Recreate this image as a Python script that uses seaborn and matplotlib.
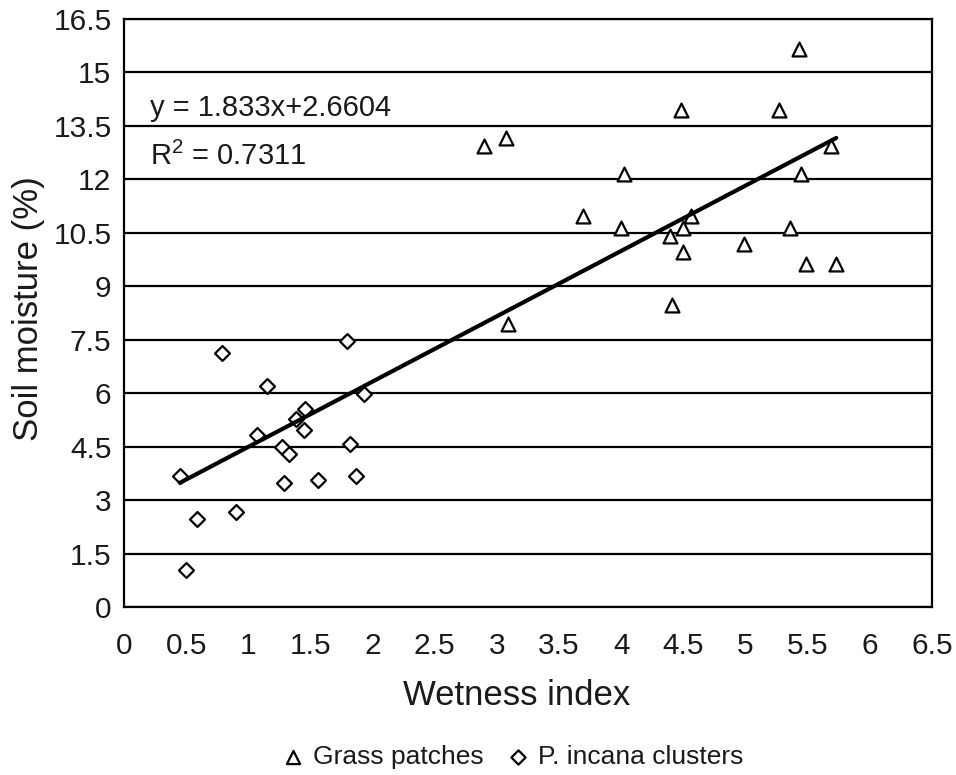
import numpy as np
import pandas as pd
import matplotlib
matplotlib.use("Agg")
import matplotlib.pyplot as plt
import seaborn as sns

# Wetness index vs. soil moisture for the two vegetation patch types
grass_wetness = [5.43, 4.48, 5.27, 2.90, 3.07, 5.69, 4.02, 5.45, 3.69, 4.56,
                 4.00, 4.50, 5.36, 4.39, 4.99, 4.50, 5.49, 5.73, 4.41, 3.09]
grass_moisture = [15.65, 13.96, 13.96, 12.93, 13.15, 12.93, 12.14, 12.14, 10.98, 10.98,
                  10.64, 10.64, 10.64, 10.41, 10.18, 9.97, 9.62, 9.62, 8.47, 7.94]

incana_wetness = [0.45, 0.50, 0.59, 0.79, 0.90, 1.07, 1.15, 1.29, 1.27,
                  1.33, 1.38, 1.46, 1.45, 1.56, 1.79, 1.82, 1.87, 1.93]
incana_moisture = [3.68, 1.04, 2.46, 7.14, 2.67, 4.83, 6.20, 3.49, 4.50,
                   4.28, 5.27, 5.57, 4.96, 3.55, 7.47, 4.56, 3.68, 5.98]

group_names = ["Grass patches", "P. incana clusters"]

# Linear fit reported on the chart
fit_slope = 1.833
fit_intercept = 2.6604
fit_r2 = 0.7311

x_ticks = np.arange(0, 6.51, 0.5)
y_ticks = np.arange(0, 16.51, 1.5)

sns.set_style("white")
plt.rcParams["font.family"] = ["Liberation Sans", "DejaVu Sans"]
plt.rcParams["mathtext.fontset"] = "custom"
plt.rcParams["mathtext.rm"] = "Liberation Sans"
plt.rcParams["mathtext.it"] = "Liberation Sans:italic"

text_color = "#1a1a1a"

df = pd.DataFrame({
    "wetness": grass_wetness + incana_wetness,
    "moisture": grass_moisture + incana_moisture,
    "group": [group_names[0]] * len(grass_wetness) + [group_names[1]] * len(incana_wetness),
})

fig = plt.figure(figsize=(9.56, 7.75), dpi=100)
ax = fig.add_axes([124 / 956, (775 - 607) / 775, (932 - 124) / 956, (607 - 19) / 775])

# horizontal grid behind everything
for yv in y_ticks:
    ax.axhline(yv, color="black", lw=1.6, zorder=0)

sns.scatterplot(data=df[df["group"] == group_names[0]], x="wetness", y="moisture",
                marker="^", s=100, facecolor="white", edgecolor="black",
                linewidth=1.6, ax=ax, label=group_names[0], zorder=3)
sns.scatterplot(data=df[df["group"] == group_names[1]], x="wetness", y="moisture",
                marker="D", s=58, facecolor="white", edgecolor="black",
                linewidth=1.6, ax=ax, label=group_names[1], zorder=3)

# regression line over the observed wetness range
x_fit = np.array([df["wetness"].min(), df["wetness"].max()])
fit_df = pd.DataFrame({"wetness": x_fit, "moisture": fit_slope * x_fit + fit_intercept})
sns.lineplot(data=fit_df, x="wetness", y="moisture", color="black", lw=3,
             ax=ax, legend=False, zorder=4)

ax.text(0.21, 14.0, f"y = {fit_slope}x+{fit_intercept}", fontsize=21,
        va="center", ha="left", color=text_color)
ax.text(0.21, 12.65, f"R$^2$ = {fit_r2}", fontsize=21,
        va="center", ha="left", color=text_color)

ax.set_xlim(0, 6.5)
ax.set_ylim(0, 16.5)
ax.set_xticks(x_ticks)
ax.set_xticklabels([f"{v:g}" for v in x_ticks])
ax.set_yticks(y_ticks)
ax.set_yticklabels([f"{v:g}" for v in y_ticks])
ax.tick_params(axis="both", direction="out", length=6, width=1.5, color="black",
               labelsize=21.5, labelcolor=text_color)
ax.tick_params(axis="x", pad=12)
ax.tick_params(axis="y", pad=3)

for side in ["left", "bottom", "right", "top"]:
    ax.spines[side].set_visible(True)
    ax.spines[side].set_color("black")
    ax.spines[side].set_linewidth(1.6)

ax.set_xlabel("Wetness index", fontsize=25, color=text_color, labelpad=14)
ax.set_ylabel("Soil moisture (%)", fontsize=25, color=text_color, labelpad=6)
ax.xaxis.label.set_x(0.486)
ax.yaxis.label.set_y(0.508)

handles, labels = ax.get_legend_handles_labels()
ax.get_legend().remove()
leg = fig.legend(handles, labels, loc="center", bbox_to_anchor=(513 / 956, 18 / 775),
                 ncol=2, frameon=False, fontsize=19, markerscale=0.95,
                 handletextpad=0.35, columnspacing=0.9, handlelength=0.8)
for t in leg.get_texts():
    t.set_color(text_color)

fig.savefig("out.png", dpi=100, facecolor="white")
